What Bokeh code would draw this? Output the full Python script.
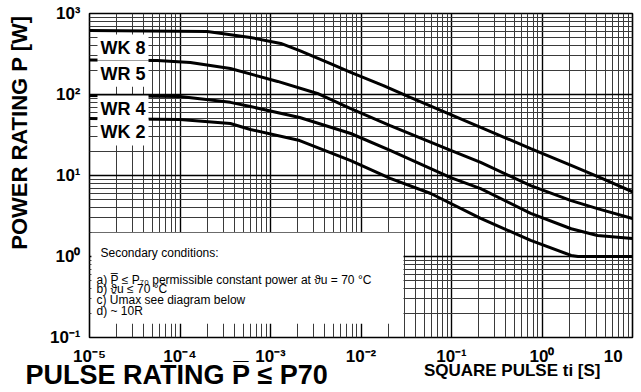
import math
from bokeh.plotting import figure
from bokeh.models import FixedTicker, CustomJSTickFormatter, Label, BoxAnnotation, Title
from bokeh.embed import file_html
from bokeh.resources import INLINE

# ---- data (pulse time t [s], power P [W]) ----
t_wk8 = [1e-5, 2e-4, 6e-4, 1.3e-3, 2.1e-3, 4.6e-3, 7.7e-3, 0.0177, 0.035, 0.098, 0.21, 0.75, 2.1, 4.4, 10]
p_wk8 = [617, 600, 506, 427, 349, 241, 187, 129, 92, 56.6, 39.2, 21.5, 13.3, 9.4, 6.3]

t_wr5 = [1e-5, 5.6e-5, 1.3e-4, 3.6e-4, 1.2e-3, 3.3e-3, 7.7e-3, 0.021, 0.098, 0.21, 0.75, 2.1, 4.1, 10]
p_wr5 = [267, 263, 248, 209, 145, 103, 67, 41.4, 20.4, 14.5, 7.5, 4.9, 3.9, 2.94]

t_wr4 = [1e-5, 1e-4, 3.6e-4, 6e-4, 2.1e-3, 7.7e-3, 0.021, 0.098, 0.21, 0.75, 2.1, 4.1, 10]
p_wr4 = [97, 94.5, 80, 71, 52, 33, 20.4, 9.4, 6.9, 3.4, 2.2, 1.82, 1.67]

t_wk2 = [1e-5, 1e-4, 3.6e-4, 6e-4, 2.1e-3, 7.7e-3, 0.021, 0.059, 0.21, 0.75, 2.1, 2.5, 10]
p_wk2 = [50.6, 49, 43.8, 37, 27, 15.3, 9.2, 6.0, 2.95, 1.58, 1.03, 1.0, 1.0]

curve_names = ["WK 8", "WR 5", "WR 4", "WK 2"]
x_decades = list(range(-5, 2))
y_decades = list(range(-1, 4))

y_title = "POWER RATING P [W]"
x_title = "SQUARE PULSE ti [S]"
main_title = "PULSE RATING P\u0305 \u2264 P70"
conditions = [
    "Secondary conditions:",
    "a)  P\u0305 \u2264 P\u2087\u2080  permissible constant power at  \u03d1u = 70 \u00b0C",
    "b)  \u03d1u \u2264 70 \u00b0C",
    "c)  \u00dbmax see diagram below",
    "d)  ~ 10R",
]

FONT = "Liberation Sans"

p = figure(frame_width=543, frame_height=324, x_axis_type="log", y_axis_type="log",
           x_range=(1e-5, 10), y_range=(0.1, 1000),
           output_backend="svg", toolbar_location=None, title=None,
           min_border_left=89, min_border_right=9, min_border_top=13, min_border_bottom=55)
p.background_fill_color = "white"
p.border_fill_color = "white"
p.outline_line_color = "black"
p.outline_line_width = 1.6

xt = [10.0 ** k for k in x_decades]
xm = [m * 10.0 ** k for k in x_decades[:-1] for m in range(2, 10)]
yt = [10.0 ** k for k in y_decades]
ym = [m * 10.0 ** k for k in y_decades[:-1] for m in range(2, 10)]

p.xaxis.ticker = FixedTicker(ticks=xt, minor_ticks=xm)
p.yaxis.ticker = FixedTicker(ticks=yt, minor_ticks=ym)

sup_js = """
const sup = {"-":"\\u207b","0":"\\u2070","1":"\\u00b9","2":"\\u00b2","3":"\\u00b3","4":"\\u2074",
             "5":"\\u2075","6":"\\u2076","7":"\\u2077","8":"\\u2078","9":"\\u2079"};
const e = Math.round(Math.log10(tick));
"""
p.xaxis.formatter = CustomJSTickFormatter(code=sup_js + """
if (e == 1) { return "10\\u2007\\u2007"; }
return "10" + String(e).split("").map(c => sup[c]).join("");
""")
p.yaxis.formatter = CustomJSTickFormatter(code=sup_js + """
return "10" + String(e).split("").map(c => sup[c]).join("");
""")

for ax in (p.xaxis[0], p.yaxis[0]):
    ax.axis_line_color = None
    ax.major_tick_line_color = None
    ax.minor_tick_line_color = None
    ax.major_tick_in = 0
    ax.major_tick_out = 0
    ax.minor_tick_in = 0
    ax.minor_tick_out = 0
    ax.major_label_text_font = FONT
    ax.major_label_text_font_style = "bold"
    ax.major_label_text_font_size = "17px"
    ax.major_label_text_color = "black"
    ax.major_label_standoff = 9

# y axis title (shifted toward the top with leading figure spaces)
yax = p.yaxis[0]
yax.axis_label = "\u2007" * 7 + y_title
yax.axis_label_text_font = FONT
yax.axis_label_text_font_style = "bold"
yax.axis_label_text_font_size = "22px"
yax.axis_label_text_color = "black"
yax.axis_label_standoff = 15

for g in (p.xgrid[0], p.ygrid[0]):
    g.grid_line_color = "black"
    g.grid_line_width = 1.4
    g.minor_grid_line_color = "#3a3a3a"
    g.minor_grid_line_width = 1.0

for t, pw in ((t_wk8, p_wk8), (t_wr5, p_wr5), (t_wr4, p_wr4), (t_wk2, p_wk2)):
    p.line(t, pw, line_color="black", line_width=3)

# white box with the secondary conditions
p.add_layout(BoxAnnotation(left=1.05e-5, right=0.0295, bottom=0.148, top=1.97,
                           fill_color="white", fill_alpha=1.0, line_color=None, line_alpha=0))

cond_y = [1.12, 0.52, 0.392, 0.294, 0.215]
cond_dx = [11, 7, 7, 7, 7]
for txt, yy, dx in zip(conditions, cond_y, cond_dx):
    p.add_layout(Label(x=1e-5, y=yy, x_offset=dx, text=txt, text_font=FONT,
                       text_font_size="12px", text_color="black",
                       text_baseline="middle", text_align="left"))

# curve labels
for name, yy in zip(curve_names, [380, 181, 67, 34]):
    p.add_layout(Label(x=1e-5, y=yy, x_offset=8, text=name, text_font=FONT,
                       text_font_style="bold", text_font_size="18px", text_color="black",
                       text_baseline="middle", text_align="left",
                       background_fill_color="white", padding=3))

# x axis title and the big bottom title
p.add_layout(Title(text=x_title, align="right", offset=32, standoff=-22,
                   text_font=FONT, text_font_style="bold", text_font_size="17px",
                   text_color="black"), "below")
p.add_layout(Title(text=main_title, align="left", offset=-64, standoff=-22,
                   text_font=FONT, text_font_style="bold", text_font_size="27px",
                   text_color="black"), "below")

open("out.html", "w").write(file_html(p, INLINE))
